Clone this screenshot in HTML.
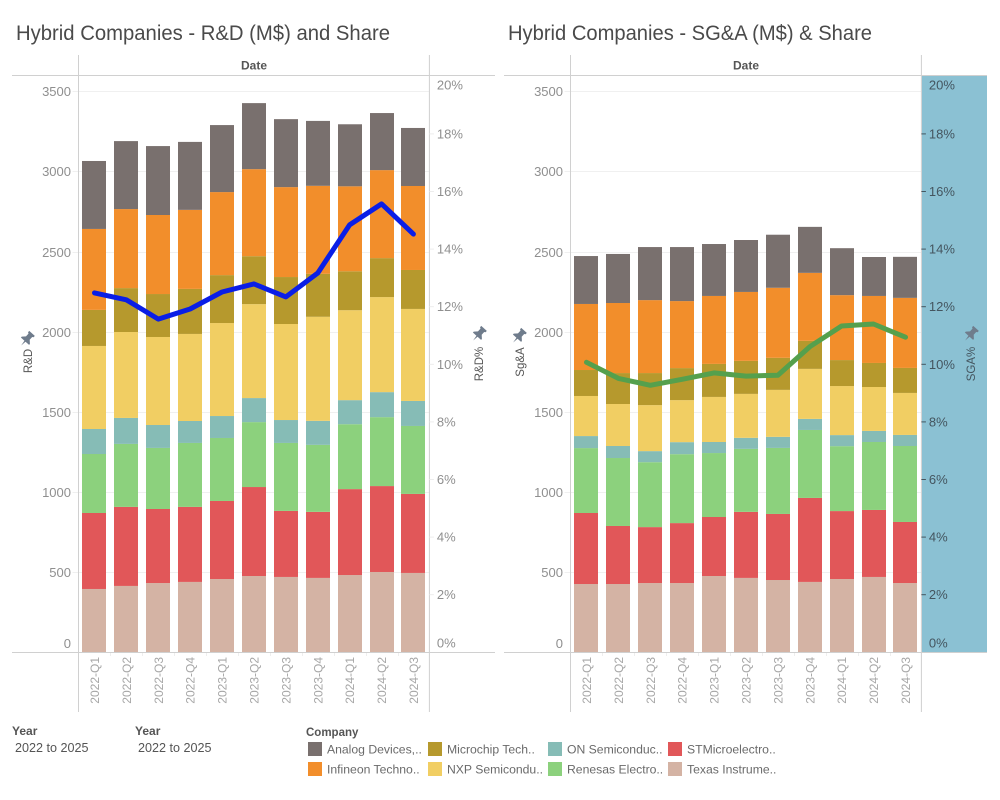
<!DOCTYPE html>
<html lang="en">
<head>
<meta charset="utf-8">
<title>Hybrid Companies - R&amp;D and SG&amp;A</title>
<style>
html,body{margin:0;padding:0;background:#fff;width:1000px;height:800px;overflow:hidden}
svg{display:block}
text{font-family:"Liberation Sans",sans-serif}
</style>
</head>
<body>
<svg id="dash" xmlns="http://www.w3.org/2000/svg" width="1000" height="800" viewBox="0 0 1000 800">
  <rect x="0" y="0" width="1000" height="800" fill="#fff"/>
  <text x="16" y="40" font-size="21" fill="#4a4a4a" textLength="374" lengthAdjust="spacingAndGlyphs">Hybrid Companies - R&amp;D (M$) and Share</text>
  <text x="508" y="40" font-size="21" fill="#4a4a4a" textLength="364" lengthAdjust="spacingAndGlyphs">Hybrid Companies - SG&amp;A (M$) &amp; Share</text>

  <rect x="922" y="76" width="65" height="576" fill="#8bc1d3"/>
  <g id="rdPane"></g>
  <g id="sgaPane"></g>

  <text x="254" y="69.5" font-size="12" font-weight="bold" fill="#555" text-anchor="middle">Date</text>
  <text x="746" y="69.5" font-size="12" font-weight="bold" fill="#555" text-anchor="middle">Date</text>

  <text transform="translate(32,361) rotate(-90)" font-size="11.5" fill="#555" text-anchor="middle">R&amp;D</text>
  <text transform="translate(483,364) rotate(-90)" font-size="11.5" fill="#555" text-anchor="middle">R&amp;D%</text>
  <text transform="translate(524,362) rotate(-90)" font-size="11.5" fill="#555" text-anchor="middle">Sg&amp;A</text>
  <text transform="translate(975,364) rotate(-90)" font-size="11.5" fill="#44555f" text-anchor="middle">SGA%</text>

  <path transform="translate(27,339) rotate(42) scale(1.25)" fill="#6f7c8c" d="M-3-6h6v1.4l-1 .6v3l2.4 2.4v1H.6L0 7l-.6-4.6h-3.8v-1L-2-1V-4l-1-.6z"/>
  <path transform="translate(479,334) rotate(42) scale(1.25)" fill="#6f7c8c" d="M-3-6h6v1.4l-1 .6v3l2.4 2.4v1H.6L0 7l-.6-4.6h-3.8v-1L-2-1V-4l-1-.6z"/>
  <path transform="translate(519,336) rotate(42) scale(1.25)" fill="#6f7c8c" d="M-3-6h6v1.4l-1 .6v3l2.4 2.4v1H.6L0 7l-.6-4.6h-3.8v-1L-2-1V-4l-1-.6z"/>
  <path transform="translate(971,334) rotate(42) scale(1.25)" fill="#6f7c8c" d="M-3-6h6v1.4l-1 .6v3l2.4 2.4v1H.6L0 7l-.6-4.6h-3.8v-1L-2-1V-4l-1-.6z"/>

  <text x="12" y="735" font-size="12" font-weight="bold" fill="#555">Year</text>
  <text x="15" y="752" font-size="12.6" fill="#555">2022 to 2025</text>
  <text x="135" y="735" font-size="12" font-weight="bold" fill="#555">Year</text>
  <text x="138" y="752" font-size="12.6" fill="#555">2022 to 2025</text>
  <text x="306" y="736" font-size="11.5" font-weight="bold" fill="#555">Company</text>
  <g id="legend"></g>
</svg>
<script>
// ---- categories and tick labels ----
const categories = ["2022-Q1","2022-Q2","2022-Q3","2022-Q4","2023-Q1","2023-Q2","2023-Q3","2023-Q4","2024-Q1","2024-Q2","2024-Q3"];
const amountTicks = [0,500,1000,1500,2000,2500,3000,3500];
const shareTicks = [0,2,4,6,8,10,12,14,16,18,20];
const companies = ["Texas Instruments","STMicroelectronics","Renesas Electronics","ON Semiconductor","NXP Semiconductors","Microchip Technology","Infineon Technologies","Analog Devices"];
const legendLabels = ["Analog Devices,..","Infineon Techno..","Microchip Tech..","NXP Semicondu..","ON Semiconduc..","Renesas Electro..","STMicroelectro..","Texas Instrume.."];
const legendCompanyIndex = [7,6,5,4,3,2,1,0];

// ---- R&D by company (M$) ----
const rdTexas     = [395,414,432,439,457,476,470,464,482,501,495];
const rdST        = [474,493,462,468,487,555,412,412,536,536,493];
const rdRenesas   = [368,393,381,399,393,405,424,418,405,430,424];
const rdON        = [156,162,143,137,137,150,143,150,150,156,156];
const rdNXP       = [518,536,549,543,580,586,599,649,561,593,574];
const rdMicrochip = [225,274,268,281,299,299,293,268,243,243,243];
const rdInfineon  = [505,493,493,493,518,543,561,549,530,549,524];
const rdAnalog    = [424,424,430,424,418,412,424,405,387,356,362];
const rdShare     = [12.48,12.24,11.57,11.92,12.51,12.79,12.34,13.17,14.84,15.57,14.52];

// ---- SG&A by company (M$) ----
const sgaTexas     = [426,426,432,432,476,464,451,439,457,470,432];
const sgaST        = [443,362,349,374,368,412,412,524,424,418,381];
const sgaRenesas   = [405,424,405,430,399,393,412,424,405,424,474];
const sgaON        = [75,75,69,75,69,69,69,69,69,69,69];
const sgaNXP       = [250,262,287,262,281,274,293,312,306,274,262];
const sgaMicrochip = [162,193,200,200,206,206,200,175,162,150,156];
const sgaInfineon  = [412,437,455,418,424,430,437,424,405,418,437];
const sgaAnalog    = [299,306,331,337,324,324,331,287,293,243,256];
const sgaShare     = [10.07,9.51,9.27,9.48,9.70,9.59,9.62,10.61,11.33,11.40,10.94];

const companyColors = ["#d4b3a4","#e15759","#8cd17d","#86bcb6","#f1ce63","#b6992d","#f28e2b","#79706e"];

const NS = "http://www.w3.org/2000/svg";
const plotBottom = 652.3, pxPerAmount = 0.1603, pxPerShare = 28.8, bandWidth = 31.9, barWidth = 24;

function yAmount(v){ return plotBottom - v * pxPerAmount; }
function yShare(p){ return plotBottom - p * pxPerShare; }
function xCenter(left, i){ return left + bandWidth * (i + 0.5); }

function make(parent, tag, attrs, txt){
  const el = document.createElementNS(NS, tag);
  for (const k in attrs) el.setAttribute(k, attrs[k]);
  if (txt !== undefined) el.textContent = txt;
  parent.appendChild(el);
  return el;
}

function drawChart(group, prefix, left, outerLeft, outerRight, stacks, share, lineColor, shareTextColor, tickColor){
  const right = left + bandWidth * categories.length;

  // gridlines and amount ticks
  amountTicks.forEach(function(t){
    const y = Math.round(yAmount(t)) + 0.5;
    if (t > 0) {
      const g = make(group, "line", {x1:left-6, x2:right, y1:y, y2:y, stroke:"#f0f0f0", "stroke-width":1});
      
      
    }
    const labelY = t === 0 ? y - 4.5 : y + 4.5;
    const lab = make(group, "text", {x:left-7.5, y:labelY, "font-size":13, fill:"#8f8f8f", "text-anchor":"end"}, String(t));
    
    
  });

  // stacked bars
  categories.forEach(function(cat, i){
    let running = 0;
    stacks.forEach(function(series, s){
      const y0 = yAmount(running);
      running += series[i];
      const y1 = yAmount(running);
      const r = make(group, "rect", {x:Math.round(xCenter(left,i)-barWidth/2), y:y1, width:barWidth, height:y0-y1, fill:companyColors[s]});
      
      
    });
    const tickX = Math.round(left + bandWidth * i) + 0.5;
    if (i > 0) {
      const sep = make(group, "line", {x1:tickX, x2:tickX, y1:652, y2:656, stroke:"#eeeeee"});
      
      
    }
    const cx = xCenter(left,i) + 4.5;
    const xl = make(group, "text", {transform:"translate("+cx+",657) rotate(-90)", "font-size":12, fill:"#a6a6a6", "text-anchor":"end"}, cat);
    
    
  });

  // axis frame
  const frame = [
    [outerLeft,75.5,outerRight,75.5,'header-rule'],
    [outerLeft,652.5,outerRight,652.5,'baseline'],
    [left,55,left,712,'left-axis-line'],
    [right,55,right,712,'right-axis-line']
  ];
  frame.forEach(function(f){
    const ln = make(group, "line", {x1:f[0], y1:f[1], x2:f[2], y2:f[3], stroke:"#d0d0d0", "stroke-width":1});
    
    
  });

  // share axis
  shareTicks.forEach(function(t){
    const y = yShare(t);
    if (t > 0 && t < 20) {
      const tk = make(group, "line", {x1:right, x2:right+4.5, y1:y, y2:y, stroke:tickColor, "stroke-width":1});
      
      
    }
    let labelY = y + 4.5;
    if (t === 20) labelY = y + 13;
    if (t === 0) labelY = y - 4.8;
    const lab = make(group, "text", {x:right+7.5, y:labelY, "font-size":13, fill:shareTextColor}, t + "%");
    
    
  });

  // share line
  const pts = share.map(function(p,i){ return xCenter(left,i).toFixed(1) + "," + yShare(p).toFixed(1); }).join(" ");
  const line = make(group, "polyline", {points:pts, fill:"none", stroke:lineColor, "stroke-width":5, "stroke-linejoin":"round", "stroke-linecap":"round"});
  
  
}

drawChart(document.getElementById("rdPane"), "rd", 78.5, 12, 495,
  [rdTexas,rdST,rdRenesas,rdON,rdNXP,rdMicrochip,rdInfineon,rdAnalog], rdShare, "#0a1ee6", "#8f8f8f", "#ededed");
drawChart(document.getElementById("sgaPane"), "sga", 570.5, 504, 987,
  [sgaTexas,sgaST,sgaRenesas,sgaON,sgaNXP,sgaMicrochip,sgaInfineon,sgaAnalog], sgaShare, "#55a04d", "#44555f", "#44555f");

// legend
const legendGroup = document.getElementById("legend");
legendLabels.forEach(function(label, i){
  const col = Math.floor(i / 2), row = i % 2;
  const sx = 308 + col * 120, sy = 742 + row * 20;
  const sw = make(legendGroup, "rect", {x:sx, y:sy, width:14, height:14, fill:companyColors[legendCompanyIndex[i]]});
  
  
  const tx = make(legendGroup, "text", {x:sx+19, y:sy+11.5, "font-size":12.2, fill:"#6a6a6a"}, label);
  
  
});
</script>
</body>
</html>
